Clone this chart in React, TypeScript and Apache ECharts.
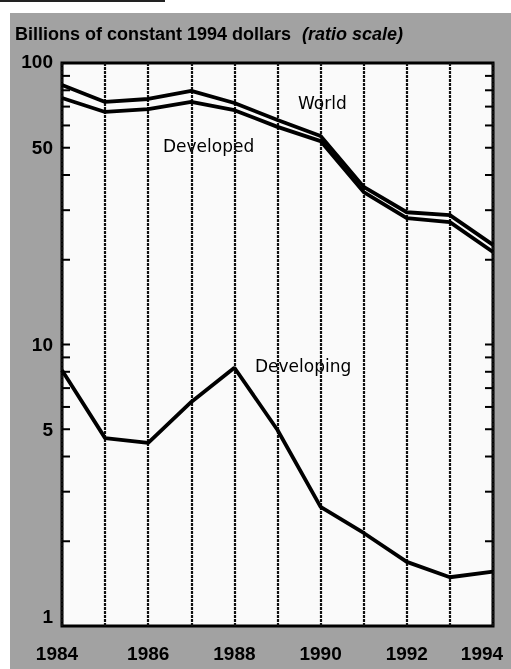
import React, { useEffect, useRef } from "react";
import * as echarts from "echarts";

const years = [1984, 1985, 1986, 1987, 1988, 1989, 1990, 1991, 1992, 1993, 1994];
const world = [83.6, 72.7, 74.5, 79.6, 72.1, 62.7, 55.0, 36.3, 29.5, 28.8, 22.6];
const developed = [75.1, 67.0, 68.6, 72.7, 68.0, 59.3, 52.8, 34.8, 28.1, 27.2, 21.3];
const developing = [8.1, 4.65, 4.47, 6.25, 8.27, 4.97, 2.65, 2.14, 1.69, 1.49, 1.56];
const yTickLabels = [1, 5, 10, 50, 100];
const yMinorTicks = [2, 3, 4, 5, 6, 7, 8, 9, 10, 20, 30, 40, 50, 60, 70, 80, 90];
const xLabelYears = [1984, 1986, 1988, 1990, 1992, 1994];

const GRAY = "#a2a2a2";
const stripe = (x1: number, y1: number, x2: number, y2: number, w: number) => ({
  type: "line",
  z: -5,
  silent: true,
  shape: { x1, y1, x2, y2 },
  style: { stroke: GRAY, lineWidth: w, lineCap: "butt" },
});

export default function App() {
  const ref = useRef<HTMLDivElement>(null);
  useEffect(() => {
    if (!ref.current) return;
    const chart = echarts.init(ref.current, null, { renderer: "svg" });
    const pair = (arr: number[]) => years.map((y, i) => [y, arr[i]]);
    const lineStyle = { color: "#000", width: 3.8 };
    const option: any = {
      animation: false,
      grid: {
        left: 62,
        right: 18,
        top: 63,
        bottom: 43,
        show: true,
        backgroundColor: "#fafafa",
        borderColor: "#000",
        borderWidth: 3,
      },
      graphic: [
        stripe(10, 38, 511, 38, 50),
        stripe(10, 647.5, 511, 647.5, 43),
        stripe(36, 13, 36, 669, 52),
        stripe(502, 13, 502, 669, 18),
        { type: "rect", shape: { x: 0, y: 0, width: 165, height: 2 }, style: { fill: "#222" } },
        {
          type: "text",
          left: 15,
          top: 25,
          style: {
            text: "Billions of constant 1994 dollars",
            font: "bold 18px 'Liberation Sans', Arial, sans-serif",
            fill: "#000",
          },
        },
        {
          type: "text",
          left: 302,
          top: 25,
          style: {
            text: "(ratio scale)",
            font: "italic bold 18px 'Liberation Sans', Arial, sans-serif",
            fill: "#000",
          },
        },
        {
          type: "text",
          left: 298,
          top: 94,
          style: { text: "World", font: "17px 'DejaVu Sans', sans-serif", fill: "#000" },
        },
        {
          type: "text",
          left: 163,
          top: 137,
          style: { text: "Developed", font: "17px 'DejaVu Sans', sans-serif", fill: "#000" },
        },
        {
          type: "text",
          left: 255,
          top: 357,
          style: { text: "Developing", font: "17px 'DejaVu Sans', sans-serif", fill: "#000" },
        },
      ],
      xAxis: {
        type: "value",
        min: 1984,
        max: 1994,
        interval: 1,
        axisLine: { show: false },
        axisTick: { show: false },
        axisLabel: {
          margin: 18,
          color: "#000",
          fontSize: 19,
          fontWeight: "bold",
          fontFamily: "'Liberation Sans', Arial, sans-serif",
          formatter: (v: number) => {
            if (!xLabelYears.includes(v)) return "";
            if (v === 1984) return "{first|" + v + "}";
            if (v === 1994) return "{last|" + v + "}";
            return String(v);
          },
          rich: {
            first: {
              fontSize: 19,
              fontWeight: "bold",
              fontFamily: "'Liberation Sans', Arial, sans-serif",
              color: "#000",
              padding: [0, 10, 0, 0],
            },
            last: {
              fontSize: 19,
              fontWeight: "bold",
              fontFamily: "'Liberation Sans', Arial, sans-serif",
              color: "#000",
              padding: [0, 22, 0, 0],
            },
          },
        },
        splitLine: { show: true, lineStyle: { color: "#111", width: 2.2, type: [3, 1] } },
      },
      yAxis: {
        type: "log",
        logBase: 10,
        min: 1,
        max: 100,
        axisLine: { show: false },
        axisTick: { show: false },
        axisLabel: { show: false },
        splitLine: { show: false },
      },
      series: [
        { type: "line", data: pair(world), symbol: "none", lineStyle, z: 5 },
        { type: "line", data: pair(developed), symbol: "none", lineStyle, z: 5 },
        { type: "line", data: pair(developing), symbol: "none", lineStyle, z: 5 },
        {
          type: "custom",
          clip: false,
          silent: true,
          z: 6,
          data: yMinorTicks.map((v) => [1984, v]),
          encode: { x: 0, y: 1 },
          renderItem: (params: any, api: any) => {
            const cs = params.coordSys;
            const y = api.coord([1984, api.value(1)])[1];
            const len = 8;
            return {
              type: "group",
              children: [
                {
                  type: "line",
                  shape: { x1: cs.x, y1: y, x2: cs.x + len, y2: y },
                  style: { stroke: "#000", lineWidth: 2 },
                },
                {
                  type: "line",
                  shape: { x1: cs.x + cs.width - len, y1: y, x2: cs.x + cs.width, y2: y },
                  style: { stroke: "#000", lineWidth: 2 },
                },
              ],
            };
          },
        },
        {
          type: "custom",
          clip: false,
          silent: true,
          z: 6,
          data: yTickLabels.map((v) => [1984, v]),
          encode: { x: 0, y: 1 },
          renderItem: (params: any, api: any) => {
            const cs = params.coordSys;
            const v = api.value(1);
            const y = api.coord([1984, v])[1];
            return {
              type: "text",
              x: cs.x - 9,
              y: v === 1 ? y - 10 : v === 100 ? y - 2 : y,
              style: {
                text: String(v),
                align: "right",
                verticalAlign: "middle",
                font: "bold 19px 'Liberation Sans', Arial, sans-serif",
                fill: "#000",
              },
            };
          },
        },
      ],
    };
    chart.setOption(option);
    return () => chart.dispose();
  }, []);
  return (
    <div
      ref={ref}
      style={{ position: "fixed", left: 0, top: 0, width: 511, height: 669 }}
    />
  );
}
